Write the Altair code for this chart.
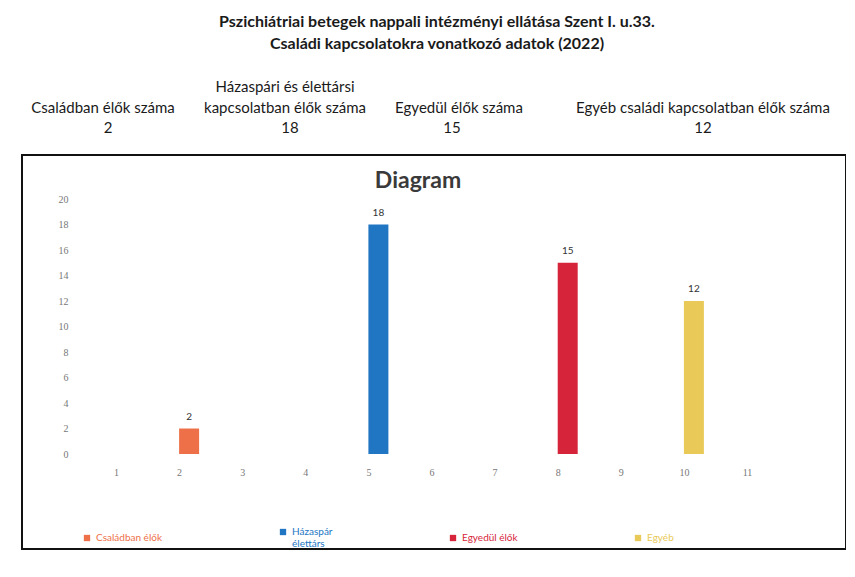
import altair as alt
import pandas as pd

# ---- data ----
categories = ["Családban élők", "Házaspár élettárs", "Egyedül élők", "Egyéb"]
positions = [2, 5, 8, 10]
values = [2, 18, 15, 12]
bar_colors = ["#EE7049", "#2176C4", "#D6253A", "#E9CA58"]
x_ticks = list(range(1, 12))
y_ticks = list(range(0, 21, 2))

chart_title = "Diagram"
title_lines = [
    "Pszichiátriai betegek nappali intézményi ellátása Szent I. u.33.",
    "Családi kapcsolatokra vonatkozó adatok  (2022)",
]
header_labels = [
    ["Családban élők száma"],
    ["Házaspári és élettársi", "kapcsolatban élők száma"],
    ["Egyedül élők száma"],
    ["Egyéb családi kapcsolatban élők száma"],
]

# ---- layout constants (pixels relative to the plot box) ----
W, H = 824, 394
header_label_x = [81, 263, 437, 681]
header_value_x = [86, 268, 430, 681]
FONT = "Lato"

df = pd.DataFrame({"category": categories, "pos": positions, "value": values})

x_scale = alt.Scale(domain=[1, 11], range=[99, 740], nice=False, zero=False)
y_scale = alt.Scale(domain=[0, 20], range=[299, 44], nice=False)

x_axis = alt.Axis(
    title=None, values=x_ticks, format="d", grid=False, domain=False, ticks=False,
    labelPadding=2, offset=-84, labelColor="#777777", labelFontSize=10,
    labelFont="Liberation Serif", labelOverlap=False, tickOffset=-10,
)
y_axis = alt.Axis(
    title=None, values=y_ticks, format="d", grid=False, domain=False, ticks=False,
    labelPadding=4, offset=-50, labelColor="#777777", labelFontSize=10,
    labelFont="Liberation Serif", labelOverlap=False,
)

x_enc = alt.X("pos:Q", scale=x_scale, axis=x_axis)
y_enc = alt.Y("value:Q", scale=y_scale, axis=y_axis)

base = alt.Chart(df)

bars = base.mark_bar(size=20).encode(
    x=x_enc,
    y=y_enc,
    color=alt.Color(
        "category:N",
        scale=alt.Scale(domain=categories, range=bar_colors),
        legend=alt.Legend(
            title=None, orient="none", legendX=60, legendY=372,
            direction="horizontal", symbolType="square", symbolSize=40,
            symbolStrokeWidth=0, labelFontSize=10, labelFont=FONT,
            columnPadding=115,
            labelColor={"expr": "scale('color', datum.value)"},
            labelExpr="datum.label == 'Házaspár élettárs' ? ['Házaspár', 'élettárs'] : datum.label",
        ),
    ),
)

bar_labels = base.mark_text(dy=-12, fontSize=10, font=FONT, color="#333333").encode(
    x=x_enc,
    y=y_enc,
    text=alt.Text("value:Q"),
)

layers = [bars, bar_labels]

# chart title inside the box
layers.append(
    alt.Chart(pd.DataFrame({"t": [chart_title]})).mark_text(
        fontSize=23, fontWeight="bold", font=FONT, color="#3a3a3a"
    ).encode(x=alt.value(396), y=alt.value(26), text="t:N")
)

# header: two bold title lines
for i, line in enumerate(title_lines):
    layers.append(
        alt.Chart(pd.DataFrame({"t": [line]})).mark_text(
            fontSize=16, fontWeight="bold", font=FONT, color="#1a1a1a"
        ).encode(x=alt.value(415), y=alt.value(-133 + 22 * i), text="t:N")
    )

# header: column labels and values
for j, lines in enumerate(header_labels):
    n = len(lines)
    for k, line in enumerate(lines):
        layers.append(
            alt.Chart(pd.DataFrame({"t": [line]})).mark_text(
                fontSize=15, font=FONT, color="#1a1a1a"
            ).encode(x=alt.value(header_label_x[j]), y=alt.value(-47 - 21 * (n - 1 - k)), text="t:N")
        )
    layers.append(
        alt.Chart(pd.DataFrame({"t": [str(values[j])]})).mark_text(
            fontSize=15, font=FONT, color="#1a1a1a"
        ).encode(x=alt.value(header_value_x[j]), y=alt.value(-27), text="t:N")
    )

chart = alt.layer(*layers).properties(
    width=W,
    height=H,
    autosize=alt.AutoSizeParams(type="none"),
    padding={"left": 14, "top": 147, "right": 0, "bottom": 20},
    background="white",
).configure_view(stroke="#111111", strokeWidth=2)

chart.save("out.html", embed_options={"renderer": "svg", "actions": False})
